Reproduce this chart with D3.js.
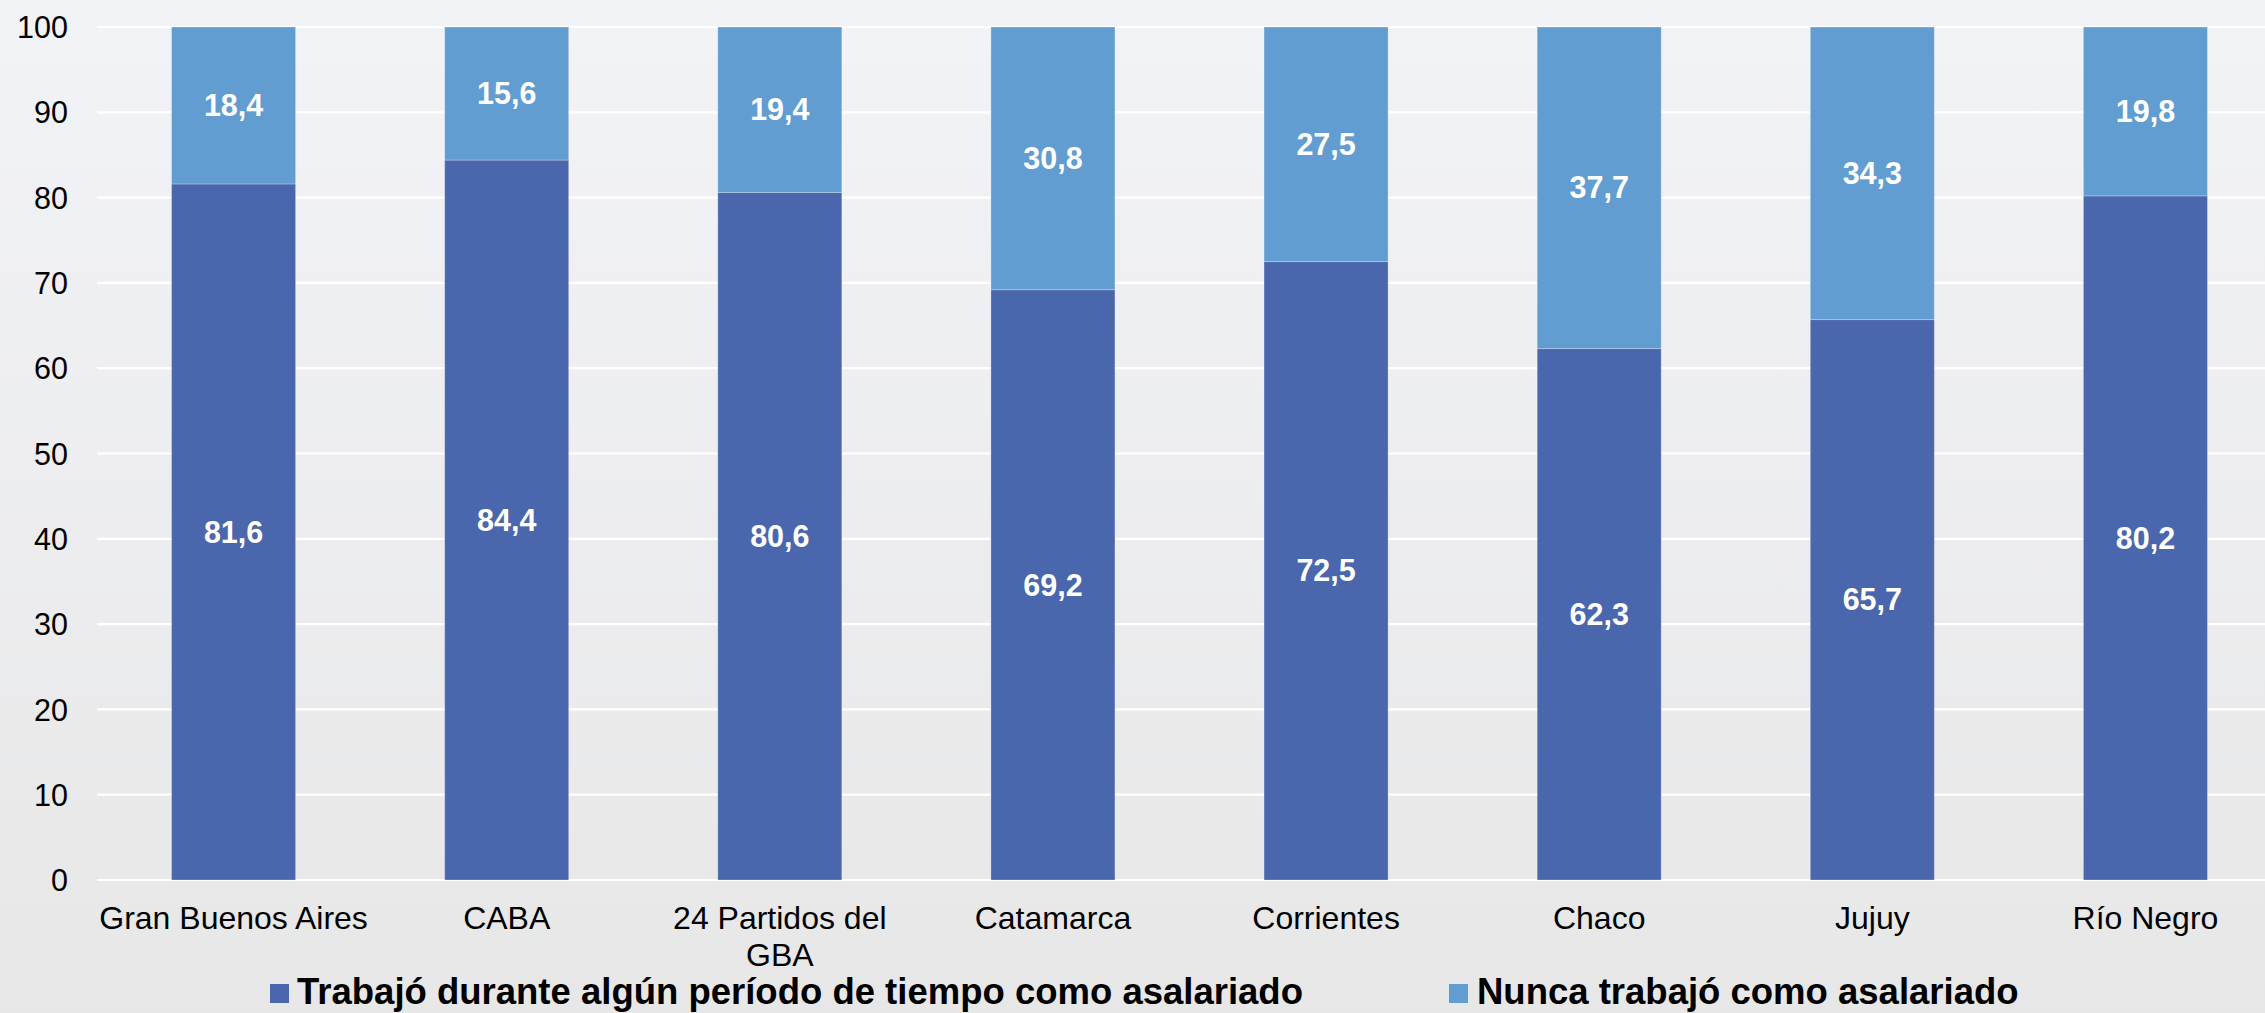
<!DOCTYPE html>
<html>
<head>
<meta charset="utf-8">
<script src="https://cdn.jsdelivr.net/npm/d3@7"></script>
<style>
  html, body { margin: 0; padding: 0; overflow: hidden; }
  svg { display: block; font-family: "Liberation Sans", Arial, sans-serif; }
</style>
</head>
<body>
<svg id="chart" width="2265" height="1013"></svg>
<script>
const categories = ["Gran Buenos Aires", "CABA", "24 Partidos del GBA", "Catamarca", "Corrientes", "Chaco", "Jujuy", "Río Negro"];
const seriesNames = ["Trabajó durante algún período de tiempo como asalariado", "Nunca trabajó como asalariado"];
const trabajoValues = [81.6, 84.4, 80.6, 69.2, 72.5, 62.3, 65.7, 80.2];
const nuncaValues = [18.4, 15.6, 19.4, 30.8, 27.5, 37.7, 34.3, 19.8];
const yTicks = [0, 10, 20, 30, 40, 50, 60, 70, 80, 90, 100];
const colors = ["#4A66AC", "#629DD1"];

const W = 2265, H = 1013;
const svg = d3.select("#chart");

// background gradient
const defs = svg.append("defs");
const grad = defs.append("linearGradient").attr("id", "bg").attr("x1", 0).attr("y1", 0).attr("x2", 0).attr("y2", 1);
grad.append("stop").attr("offset", "0%").attr("stop-color", "#F2F3F7");
grad.append("stop").attr("offset", "100%").attr("stop-color", "#E7E7E7");
svg.append("rect").attr("width", W).attr("height", H).attr("fill", "url(#bg)");

const plotLeft = 97, plotRight = 2282, plotTop = 27, plotBottom = 880;

const x = d3.scaleBand().domain(categories).range([plotLeft, plotRight]).paddingInner(0.546).paddingOuter(0.273);
const y = d3.scaleLinear().domain([0, 100]).range([plotBottom, plotTop]);

// gridlines
svg.append("g").selectAll("line").data(yTicks).join("line")
  .attr("x1", plotLeft).attr("x2", W)
  .attr("y1", d => y(d)).attr("y2", d => y(d))
  .attr("stroke", "#FFFFFF").attr("stroke-width", 2.2);

// y axis labels
const yAxis = d3.axisLeft(y).tickValues(yTicks).tickSize(0).tickPadding(0).tickFormat(d3.format("d"));
const gy = svg.append("g").attr("transform", `translate(68,0)`).call(yAxis);
gy.select(".domain").remove();
gy.selectAll("text").attr("font-size", "30.5px").attr("fill", "#000").attr("font-family", "Liberation Sans, Arial, sans-serif").attr("dy", "0.35em");

// stacked data
const rows = categories.map((c, i) => ({ cat: c, trabajo: trabajoValues[i], nunca: nuncaValues[i] }));
const stack = d3.stack().keys(["trabajo", "nunca"]);
const series = stack(rows);

const gBars = svg.append("g");
series.forEach((s, si) => {
  gBars.append("g").selectAll("rect").data(s).join("rect")
    .attr("x", d => x(d.data.cat))
    .attr("width", x.bandwidth())
    .attr("y", d => y(d[1]))
    .attr("height", d => y(d[0]) - y(d[1]))
    .attr("fill", colors[si])
    .attr("stroke", "rgba(255,255,255,0.25)")
    .attr("stroke-width", 1);
});

// data labels
series.forEach((s, si) => {
  gBars.append("g").selectAll("text").data(s).join("text")
    .attr("x", d => x(d.data.cat) + x.bandwidth() / 2)
    .attr("y", d => y((d[0] + d[1]) / 2))
    .attr("dy", "0.35em")
    .attr("text-anchor", "middle")
    .attr("font-size", "30.5px")
    .attr("font-weight", "bold")
    .attr("fill", "#FFFFFF")
    .text(d => d3.format(".1f")(d[1] - d[0]).replace(".", ","));
});

// x axis labels
const xAxis = d3.axisBottom(x).tickSize(0).tickPadding(0);
const gx = svg.append("g").attr("transform", `translate(0,${plotBottom})`).call(xAxis);
gx.select(".domain").remove();
gx.selectAll("text")
  .attr("font-size", "32px").attr("fill", "#000").attr("font-family", "Liberation Sans, Arial, sans-serif")
  .attr("y", 49).attr("dy", 0)
  .each(function(d) {
    const t = d3.select(this);
    t.text(d);
    if (this.getComputedTextLength() > 280) {
      const words = d.split(" ");
      let line = [], lines = [];
      t.text("");
      const tmp = t.append("tspan");
      words.forEach(w => {
        line.push(w);
        tmp.text(line.join(" "));
        if (tmp.node().getComputedTextLength() > 280 && line.length > 1) {
          line.pop();
          lines.push(line.join(" "));
          line = [w];
        }
      });
      lines.push(line.join(" "));
      tmp.remove();
      lines.forEach((l, i) => {
        t.append("tspan").attr("x", 0).attr("dy", i === 0 ? 0 : 37).text(l);
      });
    }
  });

// legend
const legendItems = [
  { name: seriesNames[0], color: colors[0], sx: 270, tx: 297 },
  { name: seriesNames[1], color: colors[1], sx: 1449, tx: 1477 }
];
const gl = svg.append("g");
legendItems.forEach(it => {
  gl.append("rect").attr("x", it.sx).attr("y", 984).attr("width", 19).attr("height", 19).attr("fill", it.color);
  gl.append("text").attr("x", it.tx).attr("y", 1004)
    .attr("font-size", "36.5px").attr("font-weight", "bold").attr("fill", "#000")
    .text(it.name);
});
</script>
</body>
</html>
